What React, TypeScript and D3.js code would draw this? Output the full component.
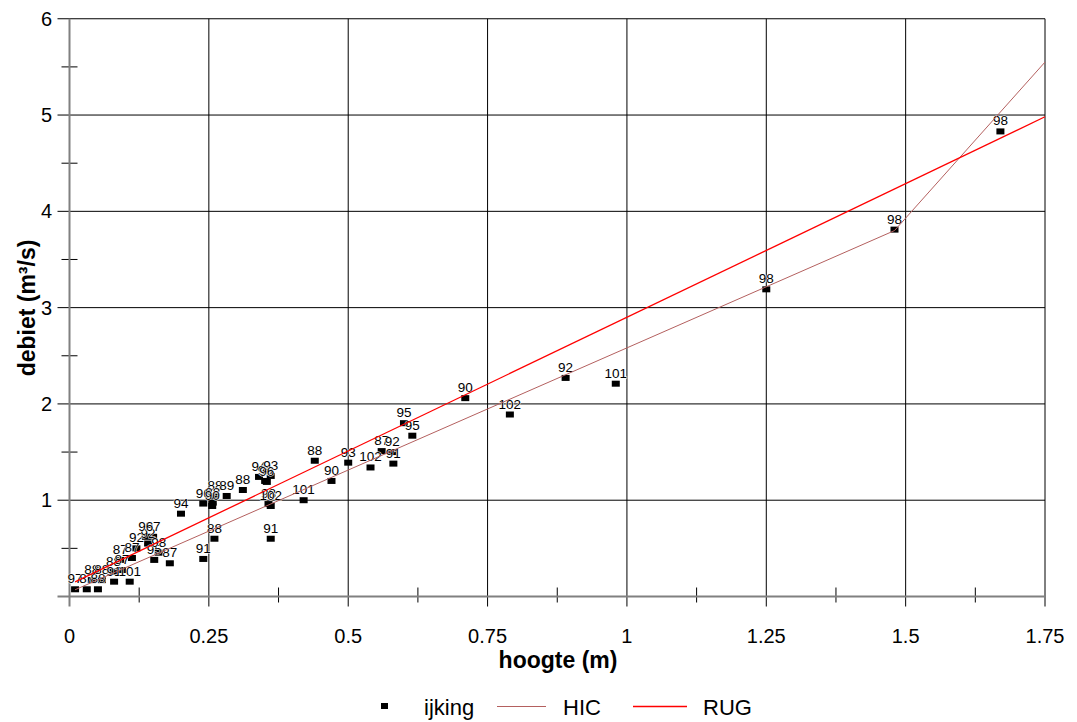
import React from "react";
import * as d3 from "d3";

// Calibration measurements (ijking): water level, discharge and campaign number
const hoogte = [
  1.67, 1.48, 1.25, 0.98, 0.89, 0.79, 0.71, 0.6, 0.615, 0.56, 0.579, 0.581,
  0.54, 0.5, 0.44, 0.47, 0.42, 0.357, 0.361, 0.361, 0.26, 0.2, 0.24, 0.18,
  0.24, 0.261, 0.257, 0.256, 0.282, 0.311, 0.34, 0.351, 0.361, 0.354,
  0.01, 0.031, 0.051, 0.04, 0.058, 0.08, 0.108, 0.079, 0.094, 0.091, 0.112,
  0.12, 0.141, 0.15, 0.137, 0.152, 0.16,
];
const debiet = [
  4.83, 3.81, 3.19, 2.21, 2.27, 1.89, 2.06, 1.8, 1.67, 1.51, 1.5, 1.38,
  1.34, 1.39, 1.41, 1.2, 1.0, 0.96, 0.94, 0.6, 0.6, 0.86, 0.39, 0.345,
  0.965, 1.044, 0.975, 0.94, 1.044, 1.106, 1.242, 1.2, 1.252, 1.19,
  0.075, 0.075, 0.075, 0.17, 0.17, 0.154, 0.154, 0.258, 0.275, 0.38, 0.4,
  0.5, 0.55, 0.62, 0.62, 0.38, 0.455,
];
const nummer = [
  "98", "98", "98", "101", "92", "102", "90", "95", "95", "87", "92", "91",
  "102", "93", "88", "90", "101", "98", "102", "91", "88", "94", "91", "87",
  "96", "88", "88", "90", "89", "88", "94", "90", "93", "96",
  "97", "87", "88", "88", "88", "91", "101", "88", "87", "87", "87",
  "92", "92", "97", "96", "95", "98",
];

// Rating curves
const hicH = [0.01, 1.48, 1.75];
const hicQ = [0.07, 3.8, 5.55];
const rugH = [0.01, 1.75];
const rugQ = [0.151, 4.982];

// Axes
const xMajor = [0, 0.25, 0.5, 0.75, 1, 1.25, 1.5, 1.75];
const xMajorLabels = ["0", "0.25", "0.5", "0.75", "1", "1.25", "1.5", "1.75"];
const xMinor = [0.125, 0.375, 0.625, 0.875, 1.125, 1.375, 1.625];
const yMajor = [1, 2, 3, 4, 5, 6];
const yMajorLabels = ["1", "2", "3", "4", "5", "6"];
const yMinor = [0.5, 1.5, 2.5, 3.5, 4.5, 5.5];

const W = 1077;
const H = 722;
const FONT = "'Liberation Sans', Arial, Helvetica, sans-serif";
const HIC_COLOR = "#b4605f";
const RUG_COLOR = "#ff0000";
const AXIS_COLOR = "#808080";

export default function App() {
  const x = d3.scaleLinear().domain([0, 1.75]).range([69.5, 1045]);
  const y = d3.scaleLinear().domain([0, 6]).range([596.5, 18.75]);
  const line = d3
    .line<[number, number]>()
    .x((d) => x(d[0]))
    .y((d) => y(d[1]));

  const hic = hicH.map((h, i) => [h, hicQ[i]] as [number, number]);
  const rug = rugH.map((h, i) => [h, rugQ[i]] as [number, number]);
  const pts = hoogte.map((h, i) => ({ h, q: debiet[i], n: nummer[i] }));

  const x0 = x(0);
  const x1 = x(1.75);
  const yTop = y(6);
  const yBot = y(0);

  return (
    <svg
      width={W}
      height={H}
      style={{ position: "absolute", left: 0, top: 0, background: "#fff" }}
      fontFamily={FONT}
    >
      {/* horizontal grid + y major ticks */}
      {yMajor.map((v) => (
        <line key={"gy" + v} x1={x0 - 12} x2={x1} y1={y(v)} y2={y(v)} stroke="#000" strokeWidth={1} />
      ))}
      {/* vertical grid + x major ticks */}
      {xMajor.slice(1).map((v) => (
        <line key={"gx" + v} x1={x(v)} x2={x(v)} y1={yTop} y2={yBot + 10} stroke="#000" strokeWidth={1} />
      ))}
      {/* minor ticks */}
      {yMinor.map((v) => (
        <line key={"my" + v} x1={x0 - 8} x2={x0 + 8} y1={y(v)} y2={y(v)} stroke="#000" strokeWidth={1} />
      ))}
      {xMinor.map((v) => (
        <line key={"mx" + v} x1={x(v)} x2={x(v)} y1={yBot - 9} y2={yBot + 6} stroke="#000" strokeWidth={1} />
      ))}
      {/* axes */}
      <line x1={x0 - 12} x2={x1} y1={yBot} y2={yBot} stroke={AXIS_COLOR} strokeWidth={2} />
      <line x1={x0} x2={x0} y1={yTop} y2={yBot + 10} stroke={AXIS_COLOR} strokeWidth={2} />

      {/* tick labels */}
      {xMajor.map((v, i) => (
        <text key={"tx" + v} x={x(v)} y={643} textAnchor="middle" fontSize={20} fill="#000">
          {xMajorLabels[i]}
        </text>
      ))}
      {yMajor.map((v, i) => (
        <text key={"ty" + v} x={52} y={y(v) + 7} textAnchor="end" fontSize={20} fill="#000">
          {yMajorLabels[i]}
        </text>
      ))}

      {/* axis titles */}
      <text x={558} y={668} textAnchor="middle" fontSize={23} fontWeight="bold" fill="#000">
        hoogte (m)
      </text>
      <text
        transform={`translate(35, ${308}) rotate(-90)`}
        textAnchor="middle"
        fontSize={23}
        fontWeight="bold"
        fill="#000"
      >
        debiet (m³/s)
      </text>

      {/* ijking points */}
      {pts.map((p, i) => (
        <rect
          key={"p" + i}
          x={x(p.h) - 4}
          y={y(p.q) - 3}
          width={8}
          height={6}
          fill="#000"
        />
      ))}
      {pts.map((p, i) => (
        <text
          key={"l" + i}
          x={x(p.h)}
          y={y(p.q) - 6}
          textAnchor="middle"
          fontSize={13.5}
          fill="#000"
          stroke="#fff"
          strokeWidth={1}
          paintOrder="stroke"
        >
          {p.n}
        </text>
      ))}

      {/* rating curves */}
      <path d={line(hic) ?? ""} fill="none" stroke={HIC_COLOR} strokeWidth={1} />
      <path d={line(rug) ?? ""} fill="none" stroke={RUG_COLOR} strokeWidth={1.3} />

      {/* legend */}
      <rect x={381} y={703} width={7} height={6} fill="#000" />
      <text x={424} y={715} fontSize={22} fill="#000">ijking</text>
      <line x1={497} x2={546} y1={706.5} y2={706.5} stroke={HIC_COLOR} strokeWidth={1} />
      <text x={563} y={715} fontSize={22} fill="#000">HIC</text>
      <line x1={633} x2={687} y1={706.5} y2={706.5} stroke={RUG_COLOR} strokeWidth={1.3} />
      <text x={703} y={715} fontSize={22} fill="#000">RUG</text>
    </svg>
  );
}
